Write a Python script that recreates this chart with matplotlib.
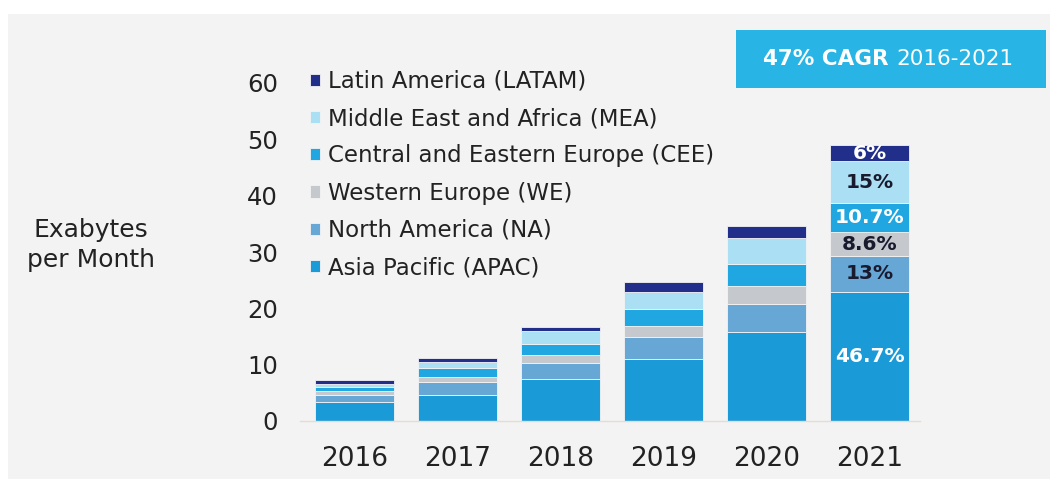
import numpy as np
import matplotlib.pyplot as plt
from matplotlib.patches import Rectangle

plt.rcParams['font.family'] = ['DejaVu Sans']

# Mobile data traffic by region, exabytes per month
years = ['2016', '2017', '2018', '2019', '2020', '2021']
regions = ['Asia Pacific (APAC)', 'North America (NA)', 'Western Europe (WE)',
           'Central and Eastern Europe (CEE)', 'Middle East and Africa (MEA)',
           'Latin America (LATAM)']
apac = [3.4, 4.6, 7.5, 11.0, 15.8, 22.9]
na = [1.2, 2.3, 2.8, 3.9, 5.0, 6.4]
we = [0.7, 0.9, 1.5, 2.0, 3.2, 4.2]
cee = [0.7, 1.6, 1.8, 3.0, 3.9, 5.2]
mea = [0.6, 1.1, 2.3, 3.0, 4.6, 7.4]
latam = [0.6, 0.7, 0.7, 1.8, 2.2, 2.9]
share_2021 = ['46.7%', '13%', '8.6%', '10.7%', '15%', '6%']
yticks = [0, 10, 20, 30, 40, 50, 60]

colors = ['#1b9ad8', '#66a7d6', '#c5c9cd', '#20a7e1', '#abdff3', '#222f8a']
label_colors = ['white', '#1a1a2e', '#1a1a2e', 'white', '#1a1a2e', 'white']
panel_bg = '#f3f3f3'

W, H = 1056, 479
fig = plt.figure(figsize=(W / 100, H / 100), dpi=100)
fig.patch.set_facecolor('white')

# grey panel behind everything
fig.patches.append(Rectangle((8 / W, 0), (1050 - 8) / W, 1 - 14 / H,
                             transform=fig.transFigure, facecolor=panel_bg,
                             edgecolor='none', zorder=-10))

# axes placed so 0..60 spans the reference pixels
left, right, base, top = 300, 920, 421, 83
ax = fig.add_axes([left / W, 1 - base / H, (right - left) / W, (base - top) / H])
ax.set_facecolor('none')
ax.set_zorder(5)

series = [apac, na, we, cee, mea, latam]
x = np.arange(len(years))
bottom = np.zeros(len(years))
handles = []
for i, vals in enumerate(series):
    bars = ax.bar(x, vals, width=0.76, bottom=bottom, color=colors[i],
                  edgecolor=panel_bg, linewidth=0.6, label=regions[i])
    labels = [''] * (len(years) - 1) + [share_2021[i]]
    ax.bar_label(bars, labels=labels, label_type='center', color=label_colors[i],
                 fontsize=14.5, fontweight='bold')
    handles.append(bars)
    bottom += np.array(vals)

ax.set_xlim(-0.53, 5.49)
ax.set_ylim(0, 60)
ax.set_xticks(x)
ax.set_xticklabels(years, fontsize=19, color='#222222')
ax.set_yticks(yticks)
ax.set_yticklabels([str(t) for t in yticks], fontsize=17.5, color='#222222')
ax.tick_params(axis='both', length=0)
ax.tick_params(axis='y', pad=16)
ax.tick_params(axis='x', pad=18)
for s in ['top', 'right', 'left']:
    ax.spines[s].set_visible(False)
ax.spines['bottom'].set_color('#e6dcd2')
ax.spines['bottom'].set_linewidth(1)

ax.legend(handles[::-1], regions[::-1], loc='upper left',
          bbox_to_anchor=(310 / W, 1 - 70 / H), bbox_transform=fig.transFigure,
          frameon=False, fontsize=16.5, handlelength=0.45, handleheight=0.45,
          handletextpad=0.35, labelspacing=0.62, borderpad=0, borderaxespad=0,
          labelcolor='#222222')

fig.text(91 / W, 1 - 245 / H, 'Exabytes\nper Month', ha='center', va='center',
         fontsize=18, linespacing=1.35, color='#222222')

# CAGR box
fig.patches.append(Rectangle((736 / W, 1 - 88 / H), (1046 - 736) / W, 58 / H,
                             transform=fig.transFigure, facecolor='#29b4e6',
                             edgecolor='none', zorder=1))
fig.text(763 / W, 1 - 59 / H, '47% CAGR', ha='left', va='center',
         fontsize=15.5, fontweight='bold', color='white')
fig.text(896 / W, 1 - 59 / H, '2016-2021', ha='left', va='center',
         fontsize=15.5, color='white')

fig.savefig('out.png', dpi=100, facecolor=fig.get_facecolor())
